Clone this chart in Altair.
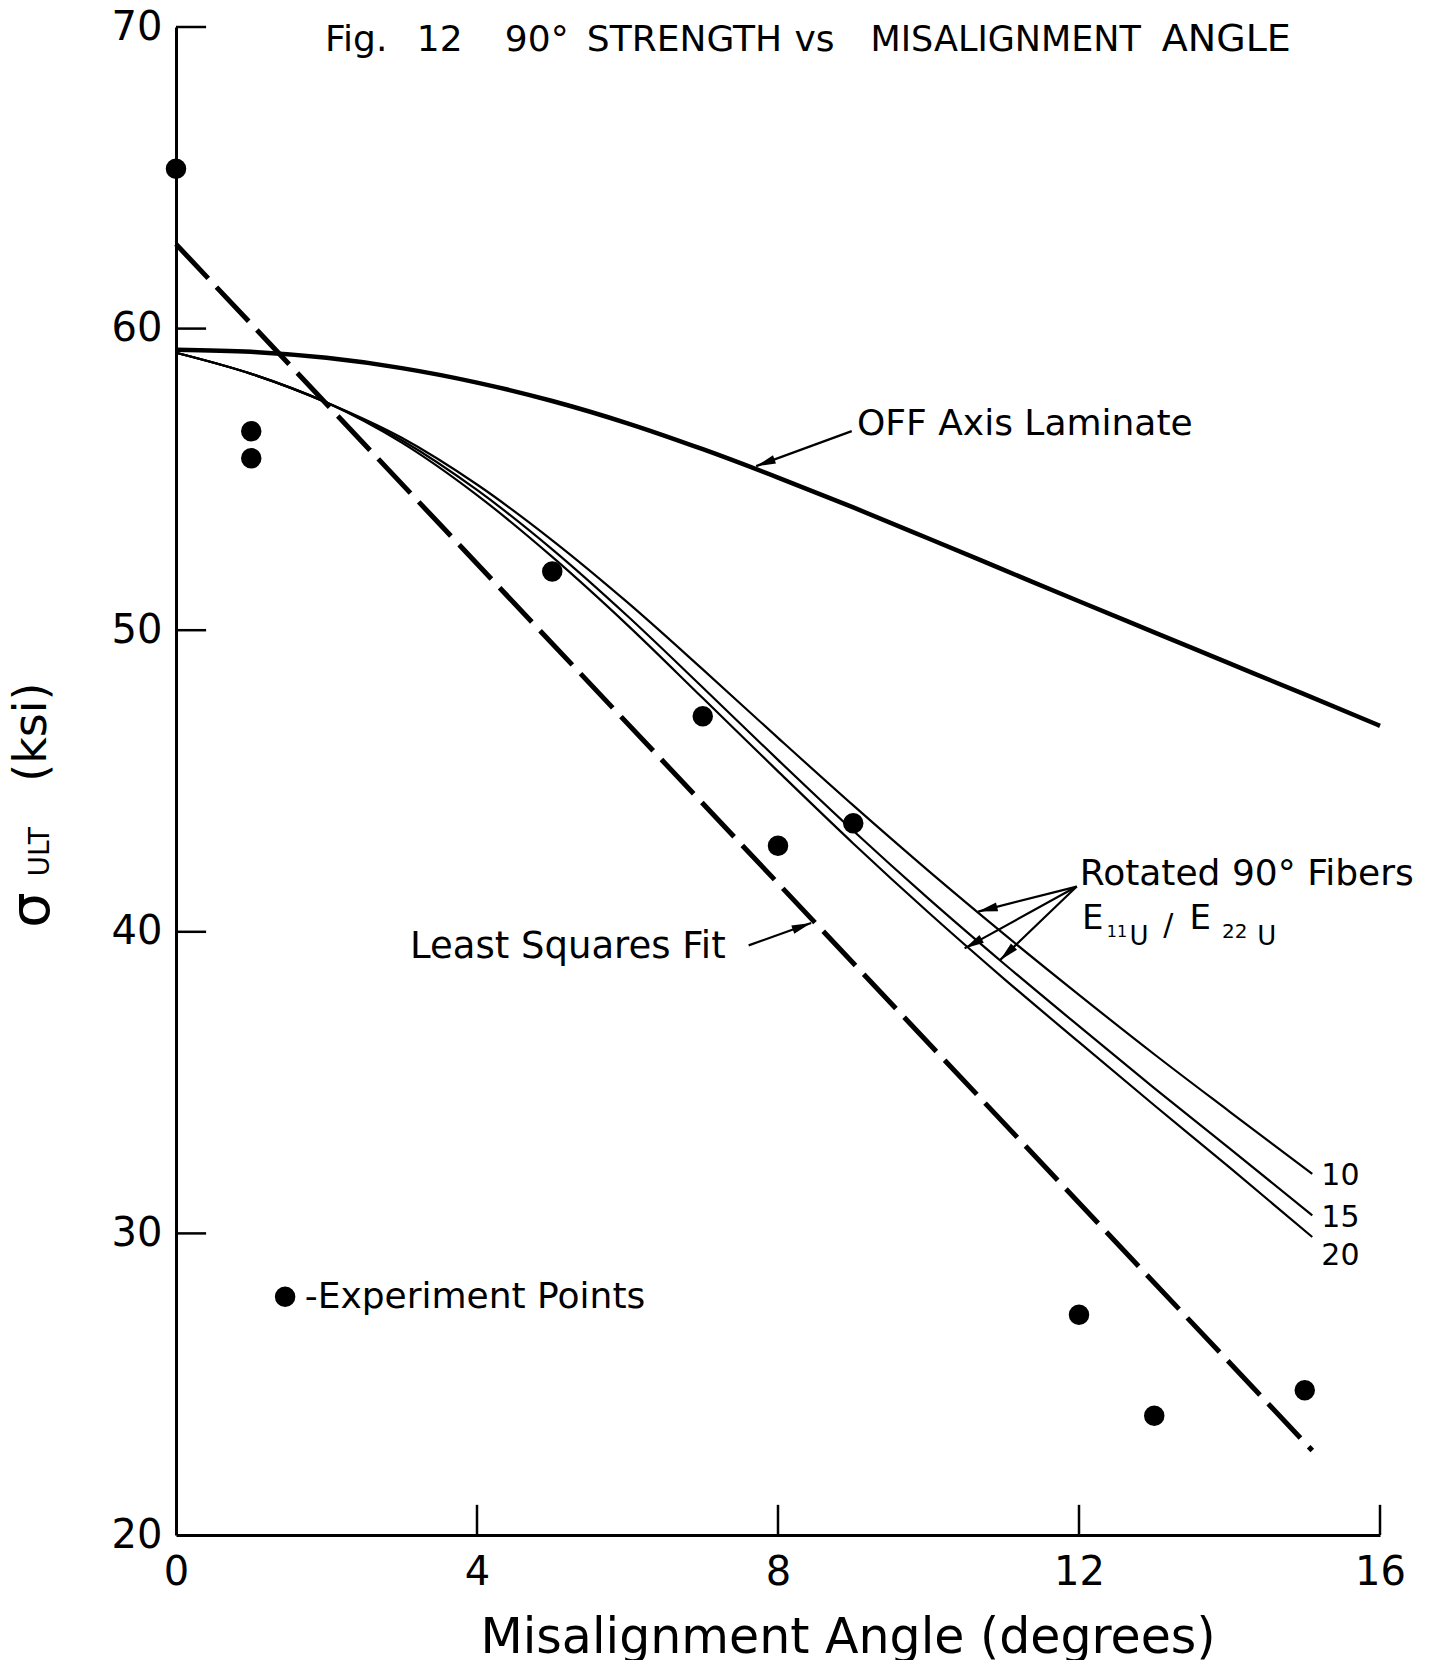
import altair as alt
import pandas as pd

FONT = "DejaVu Sans"

# ---------------- data ----------------
exp_x = [0, 1, 1, 5, 7, 8, 9, 12, 13, 15]
exp_y = [65.3, 56.6, 55.7, 51.95, 47.15, 42.85, 43.6, 27.3, 23.95, 24.8]

off_x = [0, 1, 2, 3, 4, 5, 6, 7, 8, 9, 10, 11, 12, 13, 14, 15, 16]
off_y = [59.3, 59.23, 59.03, 58.69, 58.21, 57.6, 56.86, 56.0, 55.06, 54.07,
         53.04, 52.0, 50.96, 49.93, 48.9, 47.87, 46.83]

rot_x = [0, 1, 2, 3, 4, 5, 6, 7, 8, 9, 10, 11, 12, 13, 14, 15.1]
rot_10 = [59.2, 58.5, 57.55, 56.38, 54.83, 52.98, 50.92, 48.7, 46.43, 44.19,
          42.02, 39.93, 37.91, 35.94, 34.04, 31.97]
rot_15 = [59.2, 58.5, 57.55, 56.3, 54.65, 52.68, 50.47, 48.1, 45.7, 43.35,
          41.1, 38.95, 36.87, 34.82, 32.82, 30.6]
rot_20 = [59.2, 58.5, 57.55, 56.22, 54.48, 52.43, 50.17, 47.75, 45.32, 42.93,
          40.64, 38.45, 36.34, 34.25, 32.19, 29.88]

lsf_x = [0, 15.1]
lsf_y = [62.8, 22.8]

x_ticks = [0, 4, 8, 12, 16]
y_ticks = [20, 30, 40, 50, 60, 70]

# arrows: (id, x_start, y_start, x_tip, y_tip, head angle)
arrow_id = ["off", "lsf", "r1", "r2", "r3"]
arrow_x0 = [8.98, 7.61, 11.97, 11.97, 11.97]
arrow_y0 = [56.6, 39.55, 41.5, 41.5, 41.5]
arrow_x1 = [7.71, 8.44, 10.66, 10.48, 10.95]
arrow_y1 = [55.44, 40.29, 40.67, 39.45, 39.06]
arrow_ang = [250, 70, 256, 241, 226]

# ---------------- scales / axes ----------------
xs = alt.Scale(domain=[0, 16], nice=False, zero=False)
ys = alt.Scale(domain=[20, 70], nice=False, zero=False)
xaxis = alt.Axis(values=x_ticks, title=None, ticks=False, grid=False,
                 labelFontSize=40, labelPadding=17, labelFlush=False,
                 labelOverlap=False, domainWidth=3, domainColor="black",
                 labelColor="black", labelFont=FONT, format="d")
yaxis = alt.Axis(values=y_ticks, title=None, ticks=False, grid=False,
                 labelFontSize=40, labelPadding=14, labelFlush=False,
                 labelOverlap=False, domainWidth=3, domainColor="black",
                 labelColor="black", labelFont=FONT, format="d")


def X(f="x"):
    return alt.X(f"{f}:Q", scale=xs, axis=xaxis)


def Y(f="y"):
    return alt.Y(f"{f}:Q", scale=ys, axis=yaxis)


# ---------------- tick marks (pointing inward) ----------------
xt = pd.DataFrame({"x": x_ticks[1:], "y": [20] * 4, "y2": [21.0] * 4})
xtick = alt.Chart(xt).mark_rule(color="black", strokeWidth=2.5).encode(
    x=X(), y=Y(), y2="y2:Q")
yt = pd.DataFrame({"y": y_ticks[1:], "x": [0] * 5, "x2": [0.4] * 5})
ytick = alt.Chart(yt).mark_rule(color="black", strokeWidth=2.5).encode(
    x=X(), x2="x2:Q", y=Y())

# ---------------- curves ----------------
off_df = pd.DataFrame({"x": off_x, "y": off_y})
off_line = alt.Chart(off_df).mark_line(
    color="black", strokeWidth=4.5, interpolate="monotone").encode(x=X(), y=Y())

rot_df = pd.concat([
    pd.DataFrame({"x": rot_x, "y": rot_10, "s": "10"}),
    pd.DataFrame({"x": rot_x, "y": rot_15, "s": "15"}),
    pd.DataFrame({"x": rot_x, "y": rot_20, "s": "20"}),
])
rot_lines = alt.Chart(rot_df).mark_line(
    color="black", strokeWidth=2.2, interpolate="monotone").encode(
    x=X(), y=Y(), detail="s:N")

lsf_df = pd.DataFrame({"x": lsf_x, "y": lsf_y})
lsf_line = alt.Chart(lsf_df).mark_line(
    color="black", strokeWidth=5, strokeDash=[47, 12], strokeCap="butt").encode(
    x=X(), y=Y())

exp_df = pd.DataFrame({"x": exp_x, "y": exp_y})
exp_pts = alt.Chart(exp_df).mark_point(
    filled=True, shape="circle", size=420, color="black", opacity=1).encode(
    x=X(), y=Y())

leg_df = pd.DataFrame({"x": [1.45], "y": [27.9]})
leg_pt = alt.Chart(leg_df).mark_point(
    filled=True, shape="circle", size=420, color="black", opacity=1).encode(
    x=X(), y=Y())

# ---------------- arrows ----------------
shaft_rows = []
for i, a in enumerate(arrow_id):
    shaft_rows.append({"id": a, "o": 0, "x": arrow_x0[i], "y": arrow_y0[i]})
    shaft_rows.append({"id": a, "o": 1, "x": arrow_x1[i], "y": arrow_y1[i]})
shaft_df = pd.DataFrame(shaft_rows)
shafts = alt.Chart(shaft_df).mark_line(color="black", strokeWidth=2.2).encode(
    x=X(), y=Y(), detail="id:N", order="o:Q")
head_df = pd.DataFrame({"x": arrow_x1, "y": arrow_y1, "ang": arrow_ang})
heads = alt.Chart(head_df).mark_point(
    filled=True, shape="M0,0L0.45,2L-0.45,2Z", size=380, color="black",
    opacity=1).encode(x=X(), y=Y(), angle=alt.Angle("ang:Q", scale=None))

# ---------------- texts ----------------
lt_text = ["Fig.", "12", "90°", "STRENGTH", "vs", "MISALIGNMENT", "ANGLE",
           "OFF Axis Laminate", "Least Squares Fit", "Rotated 90° Fibers",
           "E", "11", "U", "/", "E", "22", "U",
           "10", "15", "20", "-Experiment Points"]
lt_x = [1.98, 3.2, 4.37, 5.46, 8.22, 9.23, 13.1,
        9.05, 3.11, 12.01,
        12.04, 12.37, 12.67, 13.12, 13.47, 13.9, 14.37,
        15.22, 15.22, 15.22, 1.71]
lt_y = [69.57, 69.57, 69.57, 69.57, 69.57, 69.57, 69.57,
        56.84, 39.51, 41.92,
        40.42, 40.0, 39.84, 40.19, 40.42, 40.0, 39.84,
        31.91, 30.5, 29.26, 27.9]
lt_fs = [36, 36, 36, 36, 36, 35, 38,
         36, 37, 36,
         34, 16, 26, 30, 34, 20, 26,
         30, 30, 30, 36]
lt_df = pd.DataFrame({"x": lt_x, "y": lt_y, "t": lt_text, "fs": lt_fs})
left_texts = alt.Chart(lt_df).mark_text(
    align="left", baseline="middle", font=FONT, color="black").encode(
    x=X(), y=Y(), text="t:N", size=alt.Size("fs:Q", scale=None))

xt_df = pd.DataFrame({"x": [8.93], "y": [16.58],
                      "t": ["Misalignment Angle (degrees)"], "fs": [49]})
xtitle = alt.Chart(xt_df).mark_text(
    align="center", baseline="middle", font=FONT, color="black").encode(
    x=X(), y=Y(), text="t:N", size=alt.Size("fs:Q", scale=None))

yt_text = ["σ", "ULT", "(ksi)"]
yt_x = [-1.92, -1.80, -1.91]
yt_y = [40.72, 42.65, 46.62]
yt_fs = [56, 28, 46]
yt_df = pd.DataFrame({"x": yt_x, "y": yt_y, "t": yt_text, "fs": yt_fs})
ytitle = alt.Chart(yt_df).mark_text(
    align="center", baseline="middle", font=FONT, color="black",
    angle=270).encode(
    x=X(), y=Y(), text="t:N", size=alt.Size("fs:Q", scale=None))

chart = alt.layer(
    xtick, ytick, off_line, rot_lines, lsf_line, exp_pts, leg_pt,
    shafts, heads, left_texts, xtitle, ytitle
).properties(
    width=1204, height=1508,
    padding={"left": 168, "top": 19, "right": 36, "bottom": 125},
    autosize=alt.AutoSizeParams(type="none"),
    background="white",
).configure_view(stroke=None)

chart.save("out.html", embed_options={"renderer": "svg", "actions": False})
